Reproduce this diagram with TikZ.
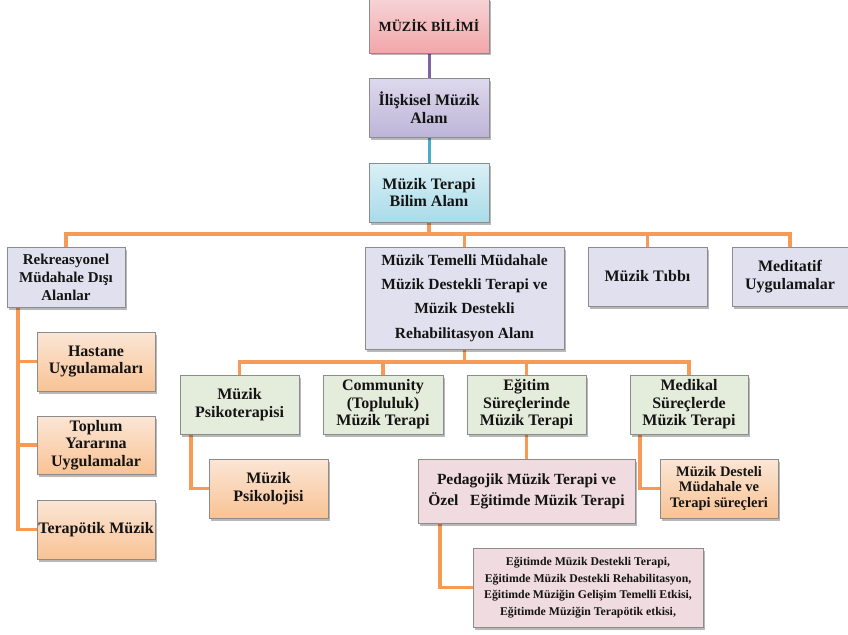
\documentclass[tikz,border=0pt]{standalone}
\usepackage{fontspec}
\setmainfont{Liberation Serif}
\usetikzlibrary{shadows,backgrounds}
\definecolor{txt}{HTML}{141414}
\definecolor{bord}{HTML}{8C8C8C}
\definecolor{pinkT}{HTML}{F6D3D5}
\definecolor{pinkB}{HTML}{F2A6AA}
\definecolor{lavT}{HTML}{DDD9ED}
\definecolor{lavB}{HTML}{BDB5D8}
\definecolor{bluT}{HTML}{DAF0F6}
\definecolor{bluB}{HTML}{A9DBE9}
\definecolor{orT}{HTML}{FBE6D6}
\definecolor{orB}{HTML}{F9C394}
\definecolor{grn}{HTML}{E4ECDB}
\definecolor{gl}{HTML}{E1E0EE}
\definecolor{pk}{HTML}{EFDBE0}
\definecolor{lineO}{HTML}{F79A55}
\definecolor{lineP}{HTML}{8064A2}
\definecolor{lineT}{HTML}{4BACC6}
\tikzset{
  box/.style={draw=bord, line width=0.7pt, inner sep=0pt, align=center, text=txt,
    drop shadow={shadow xshift=1.5pt, shadow yshift=-2.5pt, fill=black, opacity=0.28}},
  wh/.style 2 args={minimum width=#1pt, minimum height=#2pt},
  fA/.style={font=\fontsize{16}{17.5}\selectfont\bfseries},
  fB/.style={font=\fontsize{15}{18}\selectfont\bfseries},
  fC/.style={font=\fontsize{14.5}{15.5}\selectfont\bfseries},
  fD/.style={font=\fontsize{11.8}{16.5}\selectfont\bfseries},
  pinkbox/.style={box, top color=pinkT, bottom color=pinkB},
  lavbox/.style={box, top color=lavT, bottom color=lavB},
  blubox/.style={box, top color=bluT, bottom color=bluB},
  orbox/.style={box, top color=orT, bottom color=orB},
  grnbox/.style={box, fill=grn},
  glbox/.style={box, fill=gl},
  pkbox/.style={box, fill=pk},
  conn/.style={draw=lineO, line width=3.3pt},
}
\begin{document}
\begin{tikzpicture}[x=1pt,y=1pt]
\useasboundingbox (0,0) rectangle (848,-634);
% top chain
\node[pinkbox, wh={120}{54}, font=\fontsize{14}{16}\selectfont\bfseries] (bilim) at (429,-26) {MÜZİK BİLİMİ};
\node[lavbox, wh={120}{59}, fA] (ilisk) at (429,-107.5) {İlişkisel Müzik\\Alanı};
\node[blubox, wh={120}{59}, fA] (mtba) at (429,-192.5) {Müzik Terapi\\Bilim Alanı};
% level 2
\node[glbox, wh={118}{60}, fB] (rek) at (66,-277) {Rekreasyonel\\Müdahale Dışı\\Alanlar};
\node[glbox, wh={199}{102}, font=\fontsize{15.5}{24.3}\selectfont\bfseries] (temelli) at (464.5,-298) {Müzik Temelli Müdahale\\Müzik Destekli Terapi ve\\Müzik Destekli\\Rehabilitasyon Alanı};
\node[glbox, wh={119}{59}, fA] (tibbi) at (647.5,-276.5) {Müzik Tıbbı};
\node[glbox, wh={116}{59}, fA] (medit) at (790,-276.5) {Meditatif\\Uygulamalar};
% left column
\node[orbox, wh={118}{59}, fA] (hastane) at (96,-361.5) {Hastane\\Uygulamaları};
\node[orbox, wh={118}{58}, fA] (toplum) at (96,-445) {Toplum\\Yararına\\Uygulamalar};
\node[orbox, wh={118}{59}, fA] (terap) at (96,-529.5) {Terapötik Müzik};
% level 3
\node[grnbox, wh={119}{59}, fA] (psiko) at (239.5,-404.5) {Müzik\\Psikoterapisi};
\node[grnbox, wh={120}{59}, fA] (comm) at (383,-404.5) {Community\\(Topluluk)\\Müzik Terapi};
\node[grnbox, wh={119}{59}, fA] (egitim) at (526.5,-404.5) {Eğitim\\Süreçlerinde\\Müzik Terapi};
\node[grnbox, wh={118}{59}, fA] (medikal) at (689,-404.5) {Medikal\\Süreçlerde\\Müzik Terapi};
% level 4
\node[orbox, wh={119}{59}, fA] (psikoloji) at (268.5,-488.5) {Müzik\\Psikolojisi};
\node[pkbox, wh={217}{64}, font=\fontsize{15.5}{21}\selectfont\bfseries] (pedag) at (526.5,-491) {Pedagojik Müzik Terapi ve\\Özel\ \ \ Eğitimde Müzik Terapi};
\node[orbox, wh={118}{59}, fC] (desteli) at (719,-488.5) {Müzik Desteli\\Müdahale ve\\Terapi süreçleri};
\node[pkbox, wh={230}{79}, fD] (alt) at (588,-587.5) {Eğitimde Müzik Destekli Terapi,\\Eğitimde Müzik Destekli Rehabilitasyon,\\Eğitimde Müziğin Gelişim Temelli Etkisi,\\Eğitimde Müziğin Terapötik etkisi,};
% connectors
\coordinate (b1) at (429,-234);
\coordinate (b2) at (464.5,-362);
\coordinate (lx) at (18,0);
\coordinate (px) at (191,0);
\coordinate (mx) at (640,0);
\coordinate (qx) at (440,0);
\begin{pgfonlayer}{background}
\draw[draw=lineP, line width=3pt] (bilim.south) -- (ilisk.north);
\draw[draw=lineT, line width=3pt] (ilisk.south) -- (mtba.north);
\draw[conn] (mtba.south) -- (b1);
\draw[conn] (b1) -| (rek.north);
\draw[conn] (b1) -| (temelli.north);
\draw[conn] (b1) -| (tibbi.north);
\draw[conn] (b1) -| (medit.north);
\draw[conn] (rek.south -| lx) |- (hastane.west);
\draw[conn] (rek.south -| lx) |- (toplum.west);
\draw[conn] (rek.south -| lx) |- (terap.west);
\draw[conn] (temelli.south) -- (b2);
\draw[conn] (b2) -| (psiko.north);
\draw[conn] (b2) -| (comm.north);
\draw[conn] (b2) -| (egitim.north);
\draw[conn] (b2) -| (medikal.north);
\draw[conn] (psiko.south -| px) |- (psikoloji.west);
\draw[conn] (egitim.south) -- (pedag.north);
\draw[conn] (medikal.south -| mx) |- (desteli.west);
\draw[conn] (pedag.south -| qx) |- (alt.west);
\end{pgfonlayer}
\end{tikzpicture}
\end{document}
